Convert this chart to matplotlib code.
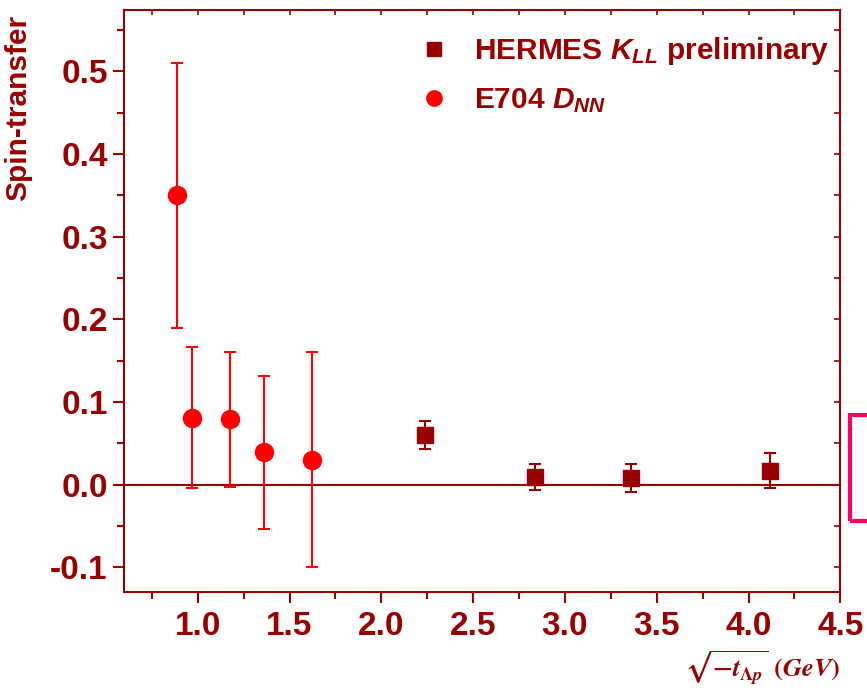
import matplotlib
matplotlib.use("Agg")
import matplotlib.pyplot as plt
from matplotlib.patches import Rectangle
from matplotlib.lines import Line2D
from matplotlib.ticker import MultipleLocator, FormatStrFormatter

# HERMES K_LL preliminary
hermes_x = [2.24, 2.836, 3.359, 4.117]
hermes_y = [0.060, 0.009, 0.008, 0.017]
hermes_err = [0.0175, 0.016, 0.0175, 0.021]

# E704 D_NN
e704_x = [0.888, 0.969, 1.178, 1.36, 1.625]
e704_y = [0.350, 0.081, 0.079, 0.039, 0.030]
e704_err = [0.160, 0.085, 0.082, 0.093, 0.130]

DARK = "#990000"
RED = "#FF0000"

plt.rcParams["font.family"] = ["Liberation Sans", "DejaVu Sans"]
plt.rcParams["font.weight"] = "bold"
plt.rcParams["mathtext.fontset"] = "custom"
plt.rcParams["mathtext.it"] = "Liberation Sans:italic:bold"
plt.rcParams["mathtext.rm"] = "Liberation Sans:bold"

W, H = 867, 695
fig = plt.figure(figsize=(W / 100, H / 100), dpi=100)
ax = fig.add_axes([124.3 / W, 1 - 592 / H, (840.3 - 124.3) / W, (592 - 9.5) / H])

ax.set_xlim(0.6, 4.5)
ax.set_ylim(-0.13, 0.575)

ax.axhline(0.0, color=DARK, lw=1.5, zorder=1)

ax.errorbar(hermes_x, hermes_y, yerr=hermes_err, fmt="s", color=DARK,
            ms=11.5, elinewidth=1.5, capsize=4.5, capthick=1.5, zorder=3)
ax.errorbar(e704_x, e704_y, yerr=e704_err, fmt="o", color=RED,
            ms=13, elinewidth=1.5, capsize=4.5, capthick=1.5, zorder=3)

for s in ax.spines.values():
    s.set_color(DARK)
    s.set_linewidth(1.5)

ax.xaxis.set_major_locator(MultipleLocator(0.5))
ax.xaxis.set_minor_locator(MultipleLocator(0.25))
ax.yaxis.set_major_locator(MultipleLocator(0.1))
ax.yaxis.set_minor_locator(MultipleLocator(0.05))
ax.xaxis.set_major_formatter(FormatStrFormatter("%.1f"))
ax.yaxis.set_major_formatter(FormatStrFormatter("%.1f"))

ax.tick_params(which="both", direction="out", colors=DARK, width=1.5,
               labelsize=24, labelcolor=DARK)
ax.tick_params(which="major", length=8)
ax.tick_params(which="minor", length=5)
ax.tick_params(axis="x", which="major", pad=6)
ax.tick_params(axis="y", which="major", pad=4)
for lab in ax.get_xticklabels() + ax.get_yticklabels():
    lab.set_fontweight("bold")

# inward ticks along the top and right edges
top = ax.secondary_xaxis("top")
top.xaxis.set_major_locator(MultipleLocator(0.25))
top.tick_params(direction="in", length=4, width=1.2, colors=DARK, labeltop=False)
top.spines["top"].set_visible(False)
right = ax.secondary_yaxis("right")
right.yaxis.set_major_locator(MultipleLocator(0.05))
right.tick_params(direction="in", length=4, width=1.2, colors=DARK, labelright=False)
right.spines["right"].set_visible(False)

handles = [Line2D([], [], ls="none", marker="s", color=DARK, ms=10),
           Line2D([], [], ls="none", marker="o", color=RED, ms=11)]
leg = ax.legend(handles,
                [r"HERMES $K_{LL}$ preliminary", r"E704 $D_{NN}$"],
                loc="upper right", bbox_to_anchor=(1.014, 0.992),
                frameon=False, fontsize=21.5, handletextpad=0.85,
                labelspacing=0.65, handlelength=1.0, borderaxespad=0.3)
for t in leg.get_texts():
    t.set_color(DARK)
    t.set_fontweight("bold")

fig.text(18 / W, 1 - 108 / H, "Spin-transfer", rotation=90, color=DARK,
         fontsize=21.5, fontweight="bold", ha="center", va="center")

fig.text(840 / W, 1 - 668 / H, r"$\sqrt{-t_{\Lambda p}}\ \left(GeV\right)$",
         color=DARK, fontsize=19, ha="right", va="center",
         math_fontfamily="stix")

fig.add_artist(Rectangle((850 / W, 1 - 521 / H), 40 / W, 106 / H,
                         transform=fig.transFigure, fill=False,
                         edgecolor="#FF0066", lw=3, clip_on=False))

fig.savefig("out.png", dpi=100)
